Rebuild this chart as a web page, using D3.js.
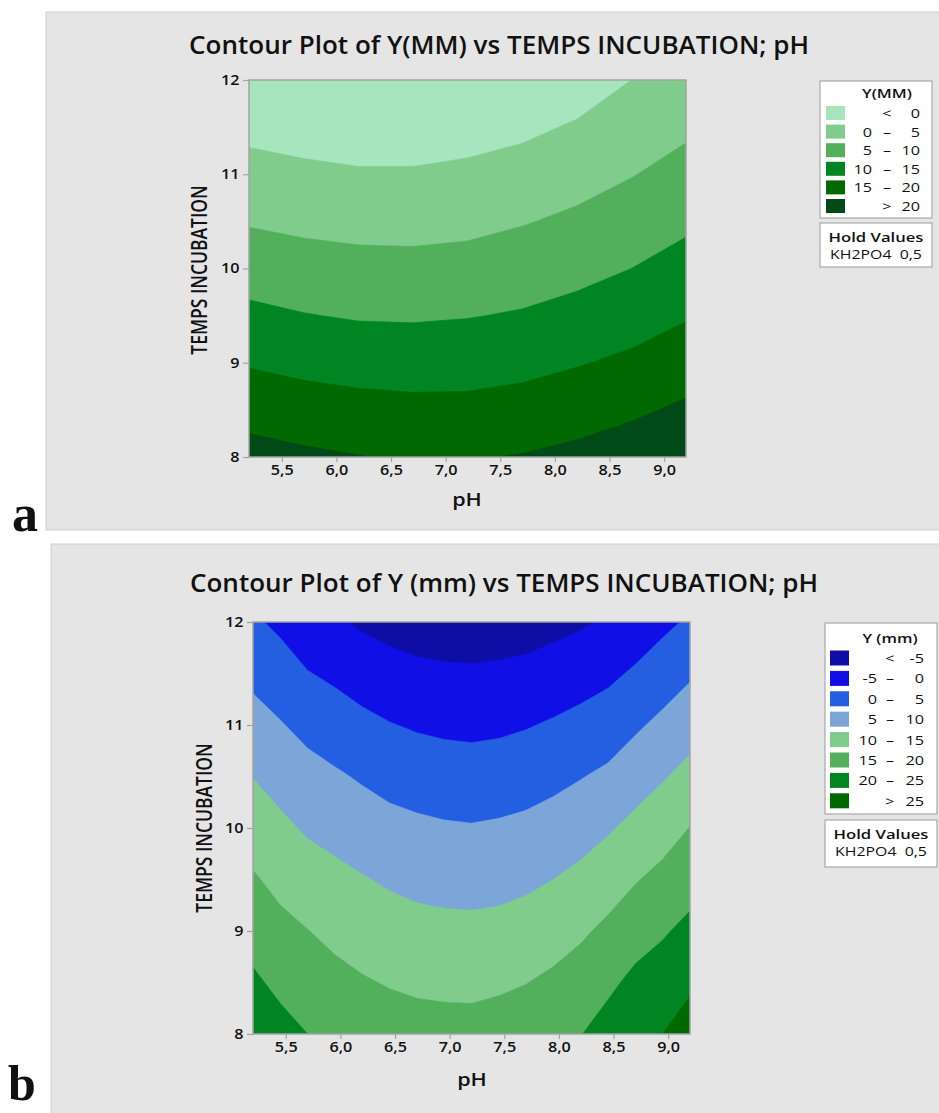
<!DOCTYPE html>
<html>
<head>
<meta charset="utf-8">
<script src="https://cdn.jsdelivr.net/npm/d3@7"></script>
<style>
  body { margin: 0; background: #fff; }
  text { font-family: "Open Sans", "Noto Sans", sans-serif; fill: #111; }
</style>
</head>
<body>
<svg class="chart" width="939" height="1113"></svg>
<script>
// grid nodes
var tempsValues = [8, 8.5, 9, 9.5, 10, 10.5, 11, 11.5, 12];
var phValues_a = [5.2, 5.7, 6.2, 6.7, 7.2, 7.7, 8.2, 8.7, 9.2];
var phValues_b = [5.2, 5.45, 5.7, 5.95, 6.2, 6.45, 6.7, 6.95, 7.2, 7.45, 7.7, 7.95, 8.2, 8.45, 8.7, 8.95, 9.2];

// panel a : Y(MM), one row per incubation time (8 -> 12)
var yMM_a = [
  21.8, 20.9, 20.15, 19.6, 19.75, 20.25, 21.2, 22.5, 24.1,
  18.2, 17.2, 16.6, 16.3, 16.3, 16.9, 17.9, 19.2, 20.8,
  14.6, 13.7, 13.1, 12.8, 13.0, 13.6, 14.7, 15.9, 17.7,
  11.1, 10.2, 9.6, 9.5, 9.8, 10.4, 11.5, 12.9, 14.6,
  7.8, 7.0, 6.5, 6.4, 6.7, 7.6, 8.6, 10.0, 11.8,
  4.6, 3.9, 3.5, 3.4, 3.8, 4.7, 5.9, 7.4, 9.1,
  1.7, 1.0, 0.5, 0.5, 1.0, 1.9, 3.2, 4.8, 6.6,
  -1.3, -2.0, -2.5, -2.5, -1.9, -1.0, 0.5, 2.4, 4.2,
  -4.3, -5.0, -5.5, -5.5, -4.9, -4.0, -2.5, 0.0, 1.9
];
var thresholds_a = [0, 5, 10, 15, 20];
var colors_a = ["#a6e5bd", "#80cc8c", "#52b05c", "#008523", "#006a00", "#004a17"];

// panel b : Y (mm)
var yMM_b = [
  23.4, 21.6, 20.0, 18.8, 17.9, 17.2, 16.8, 16.6, 16.6, 17.0, 17.6, 18.8, 19.85, 22.0, 24.4, 25.0, 27.0,
  20.8, 18.9, 17.5, 16.4, 15.4, 14.7, 14.2, 14.0, 13.9, 14.3, 14.9, 15.9, 17.2, 19.0, 21.2, 22.3, 24.3,
  18.1, 16.3, 15.1, 13.8, 12.9, 12.1, 11.5, 11.25, 11.15, 11.4, 12.0, 13.0, 14.3, 16.0, 17.9, 19.5, 21.2,
  15.5, 13.7, 12.3, 11.2, 10.3, 9.4, 8.75, 8.4, 8.3, 8.5, 9.1, 10.0, 11.2, 12.8, 14.7, 16.3, 18.1,
  12.7, 11.0, 9.4, 8.5, 7.4, 6.5, 5.9, 5.5, 5.3, 5.6, 6.1, 6.9, 8.05, 9.5, 11.3, 13.0, 15.1,
  9.9, 8.2, 6.7, 5.6, 4.5, 3.4, 2.8, 2.3, 2.1, 2.4, 2.9, 3.8, 4.8, 5.9, 7.8, 9.6, 11.5,
  6.9, 5.3, 3.6, 2.4, 1.2, 0.2, -0.5, -0.9, -1.1, -0.85, -0.3, 0.5, 1.4, 2.5, 4.3, 6.1, 8.0,
  3.8, 2.2, 0.2, -0.9, -2.2, -3.2, -3.9, -4.2, -4.35, -4.1, -3.7, -2.9, -2.0, -1.0, 0.65, 2.5, 4.4,
  0.7, -1.0, -3.1, -4.3, -5.7, -6.6, -7.3, -7.7, -7.8, -7.6, -7.2, -6.4, -5.6, -4.4, -3.0, -1.1, 0.65
];
var thresholds_b = [-5, 0, 5, 10, 15, 20, 25];
var colors_b = ["#0e0ea6", "#1010e6", "#245fe2", "#7ca6d8", "#80cc8c", "#52b05c", "#008523", "#006a00"];

var xTicks = [5.5, 6.0, 6.5, 7.0, 7.5, 8.0, 8.5, 9.0];
var yTicks = [8, 9, 10, 11, 12];
var holdLabel = "KH2PO4  0,5";

var SX = 1.2;   // the picture's text is a little wider than Open Sans
var svg = d3.select(".chart");
var fmt = function(d) { return d3.format(".1f")(d).replace(".", ","); };

function label(g, x, y, txt, size, weight, anchor, sx) {
    return g.append("text")
        .attr("transform", "translate(" + x + "," + y + ") scale(" + (sx || SX) + ",1)")
        .attr("text-anchor", anchor || "middle")
        .style("font-size", size + "px")
        .style("font-weight", weight || 400)
        .style("white-space", "pre")
        .text(txt);
}

function drawPanel(p) {
    var g = svg.append("g").attr("class", "panel");

    g.append("rect")
        .attr("x", p.bg[0]).attr("y", p.bg[1])
        .attr("width", p.bg[2]).attr("height", p.bg[3])
        .attr("fill", "#e5e5e5")
        .attr("stroke", "#d0d0d0");

    var x = d3.scaleLinear().domain([5.2, 9.2]).range([p.plot[0], p.plot[1]]),
        y = d3.scaleLinear().domain([8, 12]).range([p.plot[3], p.plot[2]]);

    // d3.contours puts grid node i at i + 0.5
    var n = p.ph.length, m = tempsValues.length;
    var gx = d3.scaleLinear().domain([0.5, n - 0.5]).range([x(p.ph[0]), x(p.ph[n - 1])]),
        gy = d3.scaleLinear().domain([0.5, m - 0.5]).range([y(tempsValues[0]), y(tempsValues[m - 1])]);
    var path = d3.geoPath(d3.geoTransform({
        point: function(a, b) { this.stream.point(gx(a), gy(b)); }
    }));

    var clipId = "clip" + p.id;
    g.append("clipPath").attr("id", clipId)
        .append("rect")
        .attr("x", p.plot[0]).attr("y", p.plot[2])
        .attr("width", p.plot[1] - p.plot[0]).attr("height", p.plot[3] - p.plot[2]);

    var area = g.append("g").attr("clip-path", "url(#" + clipId + ")");
    area.append("rect")
        .attr("x", p.plot[0]).attr("y", p.plot[2])
        .attr("width", p.plot[1] - p.plot[0]).attr("height", p.plot[3] - p.plot[2])
        .attr("fill", p.colors[0]);

    var contours = d3.contours().size([n, m]).thresholds(p.thresholds)(p.values);
    area.selectAll("path.band")
        .data(contours)
        .enter().append("path")
        .attr("class", "band")
        .attr("d", path)
        .attr("fill", function(d, i) { return p.colors[i + 1]; })
        .attr("stroke", function(d, i) { return p.colors[i + 1]; })
        .attr("stroke-width", 0.6);

    // frame
    g.append("rect")
        .attr("x", p.plot[0]).attr("y", p.plot[2])
        .attr("width", p.plot[1] - p.plot[0]).attr("height", p.plot[3] - p.plot[2])
        .attr("fill", "none")
        .attr("stroke", "#a3a3a3")
        .attr("stroke-width", 1.5);

    var ax = g.append("g")
        .attr("class", "axis axis--x")
        .attr("transform", "translate(0," + p.plot[3] + ")")
        .call(d3.axisBottom(x).tickValues(xTicks).tickFormat(fmt).tickSize(5).tickPadding(3));
    var ay = g.append("g")
        .attr("class", "axis axis--y")
        .attr("transform", "translate(" + p.plot[0] + ",0)")
        .call(d3.axisLeft(y).tickValues(yTicks).tickFormat(d3.format("d")).tickSize(6).tickPadding(2));
    [ax, ay].forEach(function(a) {
        a.select(".domain").remove();
        a.selectAll(".tick line").attr("stroke", "#a3a3a3").attr("stroke-width", 1.2);
        a.selectAll(".tick text")
            .attr("fill", "#111")
            .attr("transform", "scale(" + SX + ",1)")
            .style("font-family", "'Open Sans', sans-serif")
            .style("font-size", "13.5px")
            .style("font-weight", "600");
    });

    var title = g.append("text")
        .attr("x", p.title[0]).attr("y", p.title[1])
        .attr("text-anchor", "middle")
        .style("font-size", "20px")
        .style("font-weight", "600")
        .text(p.titleText);
    var w = title.node().getComputedTextLength();
    title.style("font-size", (20 * p.title[2] / w).toFixed(2) + "px");

    label(g, p.xLabel[0], p.xLabel[1], "pH", 18, 600);

    g.append("text")
        .attr("transform", "translate(" + p.yLabel[0] + "," + p.yLabel[1] + ") rotate(-90) scale(1," + SX + ")")
        .attr("text-anchor", "middle")
        .style("font-size", "17.5px")
        .style("font-weight", "600")
        .text("TEMPS INCUBATION");

    // legend
    var L = p.legend;
    g.append("rect")
        .attr("x", L.box[0]).attr("y", L.box[1])
        .attr("width", L.box[2]).attr("height", L.box[3])
        .attr("fill", "#fff").attr("stroke", "#a8a8a8").attr("stroke-width", 1.2);
    label(g, L.titleX, L.titleY, p.legendTitle, 12.5, 600, "middle", 1.3);

    var rows = p.colors.map(function(c, i) {
        var lo = i === 0 ? null : p.thresholds[i - 1],
            hi = i === p.thresholds.length ? null : p.thresholds[i];
        return { color: c, lo: lo, hi: hi };
    });
    rows.forEach(function(d, i) {
        var cy = L.row0 + i * L.step;
        g.append("rect")
            .attr("x", L.swX).attr("y", cy - L.swH / 2)
            .attr("width", 19).attr("height", L.swH)
            .attr("fill", d.color);
        if (d.lo !== null && d.hi !== null) label(g, L.loX, cy + 5, String(d.lo), 13.5, 500, "end");
        label(g, L.dashX, cy + 5, d.lo === null ? "<" : d.hi === null ? ">" : "\u2013", 13.5, 500, "middle");
        label(g, L.hiX, cy + 5, String(d.hi !== null ? d.hi : d.lo), 13.5, 500, "end");
    });

    g.append("rect")
        .attr("x", L.hold[0]).attr("y", L.hold[1])
        .attr("width", L.hold[2]).attr("height", L.hold[3])
        .attr("fill", "#fff").attr("stroke", "#a8a8a8").attr("stroke-width", 1.2);
    label(g, L.hold[0] + L.hold[2] / 2, L.hold[1] + 18.5, "Hold Values", 13, 600, "middle", 1.28);
    label(g, L.hold[0] + L.hold[2] / 2, L.hold[1] + 36, holdLabel, 13, 500, "middle", 1.22);

    svg.append("text")
        .attr("x", p.letter[0]).attr("y", p.letter[1])
        .style("font-family", "'Liberation Serif', 'DejaVu Serif', serif")
        .style("font-weight", "bold")
        .style("font-size", p.letter[2] + "px")
        .text(p.letterText);
}

drawPanel({
    id: "a", letterText: "a", letter: [12, 531, 52],
    bg: [46, 12, 900, 518],
    plot: [249, 686, 80, 457],
    title: [499, 54, 620],
    titleText: "Contour Plot of Y(MM) vs TEMPS INCUBATION; pH",
    xLabel: [467, 506], yLabel: [207, 270],
    ph: phValues_a, values: yMM_a, thresholds: thresholds_a, colors: colors_a,
    legendTitle: "Y(MM)",
    legend: { box: [820, 81, 112, 137], titleX: 887, titleY: 98,
              row0: 113, step: 18.6, swX: 826, swH: 14,
              loX: 872, dashX: 887, hiX: 920,
              hold: [820, 223, 112, 44] }
});

drawPanel({
    id: "b", letterText: "b", letter: [8, 1100, 50],
    bg: [51, 544, 900, 580],
    plot: [253, 690, 622, 1034],
    title: [504, 592, 628],
    titleText: "Contour Plot of Y (mm) vs TEMPS INCUBATION; pH",
    xLabel: [472, 1086], yLabel: [212, 828],
    ph: phValues_b, values: yMM_b, thresholds: thresholds_b, colors: colors_b,
    legendTitle: "Y (mm)",
    legend: { box: [825, 623, 112, 191], titleX: 890, titleY: 643,
              row0: 658, step: 20.4, swX: 830, swH: 15,
              loX: 877, dashX: 890, hiX: 924,
              hold: [825, 820, 112, 47] }
});
</script>
</body>
</html>
